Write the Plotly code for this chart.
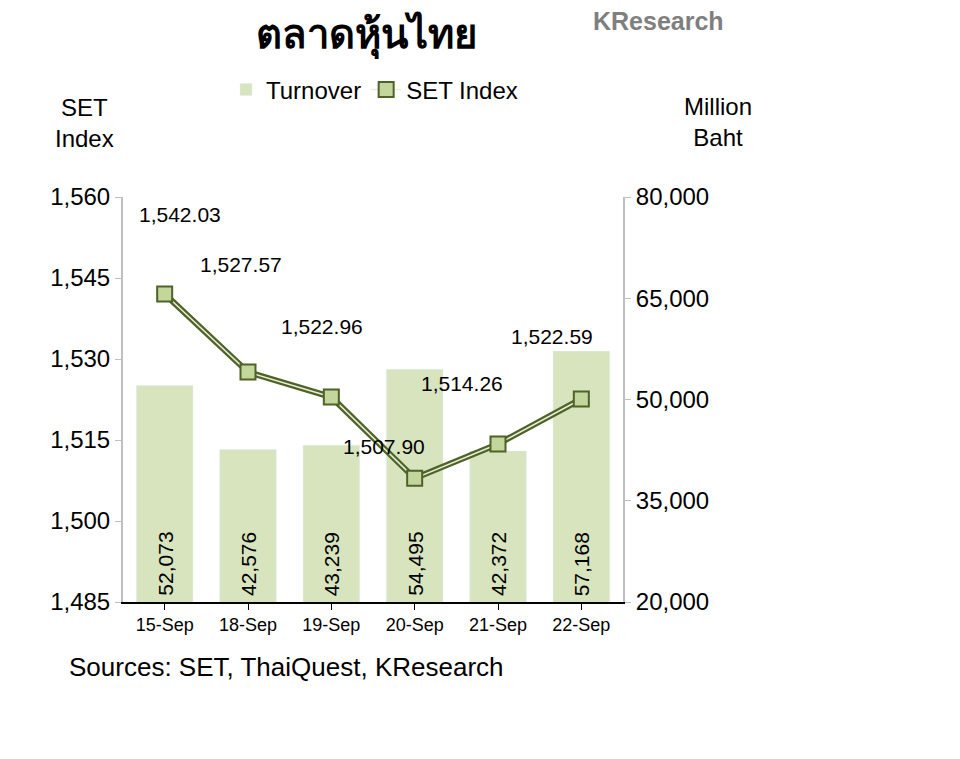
import plotly.graph_objects as go

dates = ['15-Sep', '18-Sep', '19-Sep', '20-Sep', '21-Sep', '22-Sep']
turnover = [52073, 42576, 43239, 54495, 42372, 57168]
set_index = [1542.03, 1527.57, 1522.96, 1507.90, 1514.26, 1522.59]

turnover_text = [f'{v:,}' for v in turnover]
index_text = [f'{v:,.2f}' for v in set_index]

# pixel offsets of the index labels from their points
label_dx = [15, -7, -9, -31, -36, -29]
label_dy = [80, 108, 71, 32, 61, 63]

dark = '#4f6228'
font = 'Liberation Sans, Arial'
W, H = 960, 759
OFF = 8  # page body offset of the browser
L, R, T, B = 123 - OFF, 623 - OFF, 197 - OFF, 602 - OFF

fig = go.Figure()

# turnover bars (right axis, drawn underneath)
fig.add_trace(go.Bar(x=dates, y=turnover, name='Turnover', yaxis='y',
                     marker=dict(color='#d7e4bd'), width=0.68))

# SET index on the overlaying left axis: dark outer line, light inner line
fig.add_trace(go.Scatter(x=dates, y=set_index, mode='lines', yaxis='y2',
                         line=dict(color=dark, width=6), showlegend=False,
                         hoverinfo='skip'))
fig.add_trace(go.Scatter(x=dates, y=set_index, mode='lines+markers',
                         name='SET Index', yaxis='y2',
                         line=dict(color='#e8efd8', width=1.5),
                         marker=dict(symbol='square', size=15, color='#c3d69b',
                                     line=dict(color=dark, width=2))))

for d, v, t in zip(dates, turnover, turnover_text):
    fig.add_annotation(x=d, y=20000, yref='y', text=t, showarrow=False,
                       textangle=-90, yanchor='bottom', yshift=4,
                       font=dict(size=21, color='black', family=font))

for d, v, t, dx, dy in zip(dates, set_index, index_text, label_dx, label_dy):
    fig.add_annotation(x=d, y=v, yref='y2', text=t, showarrow=False,
                       xshift=dx, yshift=dy,
                       font=dict(size=21, color='black', family=font))

axis_style = dict(showgrid=False, zeroline=False, showline=True,
                  linecolor='#bfbfbf', linewidth=2, ticks='outside',
                  tickcolor='#bfbfbf', ticklen=6, tickformat=',',
                  tickfont=dict(size=24))

fig.update_layout(
    width=W, height=H,
    paper_bgcolor='white', plot_bgcolor='white',
    margin=dict(l=L, r=W - R, t=T, b=H - B, autoexpand=False),
    font=dict(family=font, size=22, color='black'),
    xaxis=dict(showline=True, linecolor='black', linewidth=1.5,
               ticks='outside', tickcolor='black', ticklen=6,
               tickfont=dict(size=18)),
    yaxis=dict(range=[20000, 80000], tick0=20000, dtick=15000, side='right',
               **axis_style),
    yaxis2=dict(range=[1485, 1560], tick0=1485, dtick=15, side='left',
                overlaying='y', **axis_style),
    legend=dict(orientation='h', x=(218 - L) / 500, y=(B - 90 + OFF) / 405,
                xanchor='left', yanchor='middle', font=dict(size=24),
                bgcolor='rgba(0,0,0,0)', traceorder='normal'),
    showlegend=True,
)

anns = [
    dict(text='<b>ตลาดหุ้นไทย</b>', x=358, y=35, size=40, color='black'),
    dict(text='<b>KResearch</b>', x=650, y=21, size=25, color='#7f7f7f'),
    dict(text='SET<br>Index', x=76, y=123, size=24, color='black'),
    dict(text='Million<br>Baht', x=710, y=122, size=24, color='black'),
    dict(text='Sources: SET, ThaiQuest, KResearch', x=278, y=667, size=26, color='black'),
]
for a in anns:
    px, py = a['x'], a['y'] - OFF
    fig.add_annotation(x=(px - L) / (R - L), y=(B - py) / (B - T),
                       xref='paper', yref='paper', text=a['text'],
                       showarrow=False, xanchor='center', yanchor='middle',
                       font=dict(size=a['size'], color=a['color']))

fig.write_html('out.html')
